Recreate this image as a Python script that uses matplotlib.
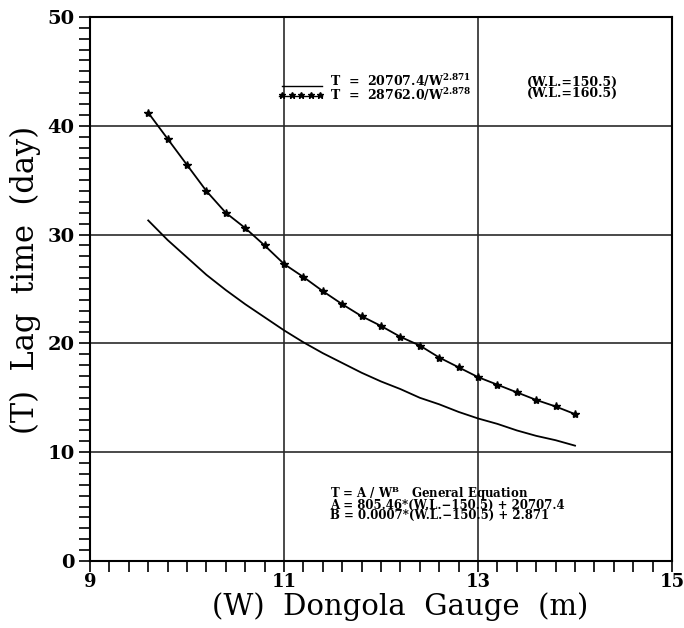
"""Lag time vs Dongola gauge"""

import matplotlib
matplotlib.use('Agg')
import matplotlib.pyplot as plt
from matplotlib.ticker import MultipleLocator, FixedLocator

# gauge readings (m), 0.2 step
gauge = [9.6, 9.8, 10.0, 10.2, 10.4, 10.6, 10.8, 11.0, 11.2, 11.4, 11.6, 11.8,
         12.0, 12.2, 12.4, 12.6, 12.8, 13.0, 13.2, 13.4, 13.6, 13.8, 14.0]
# W.L. = 150.5
lag_150 = [31.3, 29.5, 27.9, 26.3, 24.9, 23.6, 22.4, 21.2, 20.1, 19.1, 18.2, 17.3,
           16.5, 15.8, 15.0, 14.4, 13.7, 13.1, 12.6, 12.0, 11.5, 11.1, 10.6]
# W.L. = 160.5 (starred)
lag_160 = [41.2, 38.8, 36.4, 34.0, 32.0, 30.6, 29.0, 27.3, 26.1, 24.8, 23.6, 22.5,
           21.6, 20.6, 19.8, 18.7, 17.8, 16.9, 16.2, 15.5, 14.8, 14.2, 13.5]

x_ticks = [9, 11, 13, 15]
legend_eq = [r'T  =  20707.4/W$^{\mathbf{2.871}}$', r'T  =  28762.0/W$^{\mathbf{2.878}}$']
legend_wl = ['(W.L.=150.5)', '(W.L.=160.5)']
general = [r'T = A / W$^{\mathbf{B}}$   General Equation',
           'A = 805.46*(W.L.\u2212150.5) + 20707.4',
           'B = 0.0007*(W.L.\u2212150.5) + 2.871']

plt.rcParams['font.family'] = ['DejaVu Serif']
plt.rcParams['mathtext.fontset'] = 'dejavuserif'
plt.rcParams['mathtext.default'] = 'bf'

fig = plt.figure(figsize=(6.84, 6.28), dpi=100)
ax = fig.add_axes([0.1316, 0.1067, 0.8509, 0.8663])

ax.plot(gauge, lag_150, color='black', lw=1.3)
ax.plot(gauge, lag_160, color='black', lw=1.3, marker='*', ms=6)

ax.set_xlim(9, 15)
ax.set_ylim(0, 50)
ax.xaxis.set_major_locator(FixedLocator(x_ticks))
ax.xaxis.set_minor_locator(MultipleLocator(0.2))
ax.yaxis.set_major_locator(MultipleLocator(10))
ax.yaxis.set_minor_locator(MultipleLocator(1))
ax.tick_params(which='both', direction='out', length=8, width=1.2,
               top=False, right=False)
ax.tick_params(axis='y', labelsize=14, pad=3)
ax.tick_params(axis='x', labelsize=13, pad=1)
for lab in ax.get_xticklabels() + ax.get_yticklabels():
    lab.set_fontweight('bold')
ax.grid(which='major', color='#2a2a2a', lw=1.2)
for sp in ax.spines.values():
    sp.set_linewidth(1.5)

ax.set_xlabel('(W)  Dongola  Gauge  (m)', fontsize=21)
ax.set_ylabel('(T)  Lag  time  (day)', fontsize=22)
ax.xaxis.set_label_coords(0.533, -0.058)
ax.yaxis.set_label_coords(-0.085, 0.517)

# legend drawn by hand
ax.plot([10.98, 11.39], [43.7, 43.7], color='black', lw=1.0)
ax.plot([10.95, 11.39], [42.75, 42.75], color='black', lw=1.0)
ax.plot([10.98, 11.08, 11.18, 11.28, 11.37], [42.85] * 5, ls='none',
        marker='*', color='black', ms=5)
ax.text(11.47, 43.5, '\n'.join(legend_eq), fontsize=9, fontweight='bold',
        va='center', linespacing=0.75)
ax.text(13.5, 43.5, '\n'.join(legend_wl), fontsize=9, fontweight='bold',
        va='center', linespacing=0.82)

ax.text(11.47, 5.35, '\n'.join(general), fontsize=8.5, fontweight='bold',
        va='center', linespacing=0.66)

fig.savefig('out.png', dpi=100)
